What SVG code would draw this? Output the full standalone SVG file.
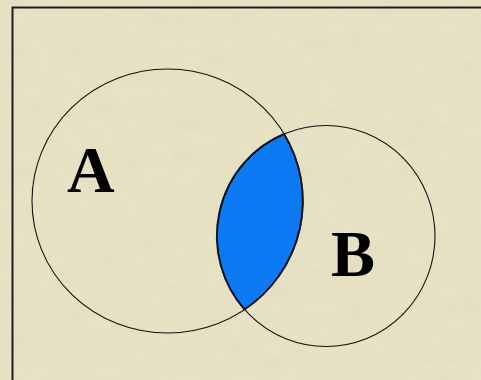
<svg xmlns="http://www.w3.org/2000/svg" width="481" height="380" viewBox="0 0 481 380">
  <defs>
    <filter id="paper" x="0" y="0" width="100%" height="100%">
      <feTurbulence type="fractalNoise" baseFrequency="0.035 0.06" numOctaves="3" seed="7" result="n"/>
      <feColorMatrix in="n" type="matrix" values="0 0 0 0 0.55  0 0 0 0 0.52  0 0 0 0 0.42  0 0 0 0.9 -0.38" result="c"/>
      <feComposite in="c" in2="SourceGraphic" operator="in"/>
    </filter>
    <style>
      .set { fill: none; stroke: #111; stroke-width: 1.1; }
      .lens { fill: #0d79f2; stroke: #0c1a33; stroke-width: 2; stroke-linejoin: round; }
      .lbl { font-family: "Liberation Serif", "Times New Roman", serif; font-weight: bold; font-size: 66px; fill: #000; }
      .frame { fill: none; stroke: #1e1e1e; stroke-width: 2; }
    </style>
  </defs>
  <rect x="0" y="0" width="481" height="380" fill="#e8e2c5"/>
  <rect x="0" y="0" width="481" height="380" fill="#e8e2c5" filter="url(#paper)" opacity="0.35"/>
  <rect class="frame" x="12.5" y="7.5" width="500" height="400"/>
  <g id="intersection">
    <path class="lens" d="M 284 134 A 135.5 132 0 0 1 244.5 309.5 A 109 110.5 0 0 1 284 134 Z"/>
  </g>
  <g id="setA">
    <ellipse class="set" cx="167.5" cy="201" rx="135.5" ry="132"/>
    <text class="lbl" x="67" y="192">A</text>
  </g>
  <g id="setB">
    <ellipse class="set" cx="326" cy="236" rx="109" ry="110.5"/>
    <text class="lbl" x="331" y="276">B</text>
  </g>
</svg>
